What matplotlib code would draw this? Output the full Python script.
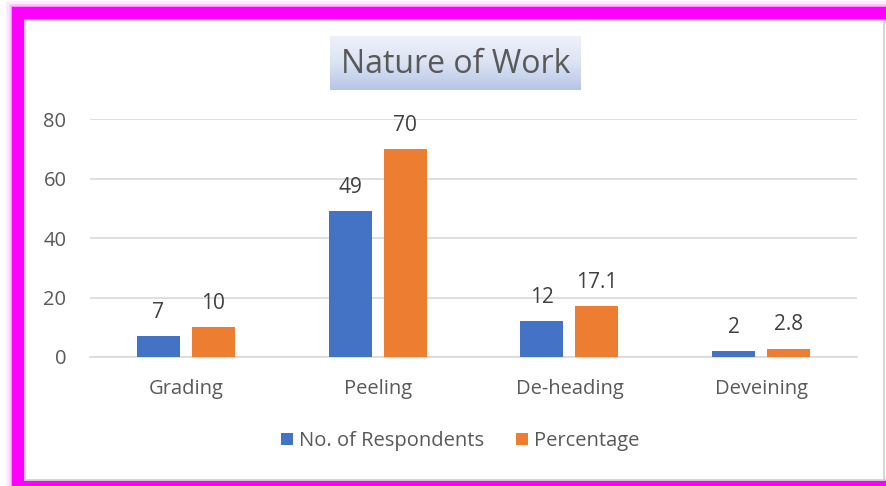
import numpy as np
import matplotlib.pyplot as plt
from matplotlib.patches import Rectangle
from matplotlib.colors import LinearSegmentedColormap

categories = ["Grading", "Peeling", "De-heading", "Deveining"]
respondents = [7, 49, 12, 2]
percentage = [10, 70, 17.1, 2.8]
resp_labels = ["7", "49", "12", "2"]
pct_labels = ["10", "70", "17.1", "2.8"]

plt.rcParams['font.family'] = ['Open Sans', 'DejaVu Sans']

fig = plt.figure(figsize=(8.86, 4.86), dpi=100)
W, H = 886, 486

# magenta glowing frame (right side is cut off in the original)
fx, ftop, fbot = 18, 13, 487
for lw, a in [(24, 0.08), (19, 0.15), (15, 0.3)]:
    fig.patches.append(Rectangle((fx / W, (H - fbot) / H), 900 / W, (fbot - ftop) / H,
                                 transform=fig.transFigure, fill=False,
                                 edgecolor='#ff00ff', lw=lw * 0.72, alpha=a, zorder=0))
fig.patches.append(Rectangle((fx / W, (H - fbot) / H), 900 / W, (fbot - ftop) / H,
                             transform=fig.transFigure, fill=False,
                             edgecolor='#ff00ff', lw=12 * 0.72, zorder=1))
fig.patches.append(Rectangle((24.5 / W, 6 / H), (884 - 24.5) / W, (486 - 20 - 6) / H,
                             transform=fig.transFigure, facecolor='white',
                             edgecolor='#d0d0d0', lw=1.2, zorder=2))

ax = fig.add_axes([90 / W, 129 / H, 767 / W, 238 / H])
ax.set_zorder(5)
ax.patch.set_alpha(0)

x = np.arange(len(categories))
bw = 0.224
off = 0.143
b1 = ax.bar(x - off, respondents, bw, color='#4472c4', label='No. of Respondents', zorder=3)
b2 = ax.bar(x + off, percentage, bw, color='#ed7d31', label='Percentage', zorder=3)

for bars, labs in [(b1, resp_labels), (b2, pct_labels)]:
    for r, t in zip(bars, labs):
        ax.annotate(t, (r.get_x() + r.get_width() / 2, r.get_height()),
                    xytext=(0, 9.5), textcoords='offset points', ha='center', va='bottom',
                    fontsize=15, color='#404040')

ax.set_xlim(-0.5, 3.5)
ax.set_ylim(0, 80)
ax.set_yticks([0, 20, 40, 60, 80])
ax.set_xticks(x)
ax.set_xticklabels(categories)
ax.grid(axis='y', color='#d9d9d9', lw=1.2, zorder=0)
for s in ['top', 'right', 'left']:
    ax.spines[s].set_visible(False)
ax.spines['bottom'].set_color('#d9d9d9')
ax.spines['bottom'].set_linewidth(1.2)
ax.tick_params(axis='both', length=0, colors='#595959')
ax.tick_params(axis='x', pad=16, labelsize=14.5)
ax.tick_params(axis='y', pad=17, labelsize=14.5)

# title box with gradient
tax = fig.add_axes([330 / W, (486 - 90) / H, 251 / W, 54 / H])
tax.set_zorder(6)
grad = np.linspace(0, 1, 100).reshape(-1, 1)
cm = LinearSegmentedColormap.from_list('t', ['#eef1f9', '#dbe3f3', '#b4c6e7'])
tax.imshow(grad, aspect='auto', cmap=cm, extent=[0, 1, 0, 1], origin='upper')
tax.set_axis_off()
tax.text(0.5, 0.47, "Nature of Work", ha='center', va='center', fontsize=23,
         color='#595959', transform=tax.transAxes)

fig.legend(handles=[b1, b2], loc='center', bbox_to_anchor=(460 / W, (486 - 441) / H),
           ncol=2, frameon=False, fontsize=14.5, labelcolor='#595959',
           handlelength=0.6, handleheight=0.6, handletextpad=0.3, columnspacing=1.6)

fig.savefig('out.png', dpi=100)
